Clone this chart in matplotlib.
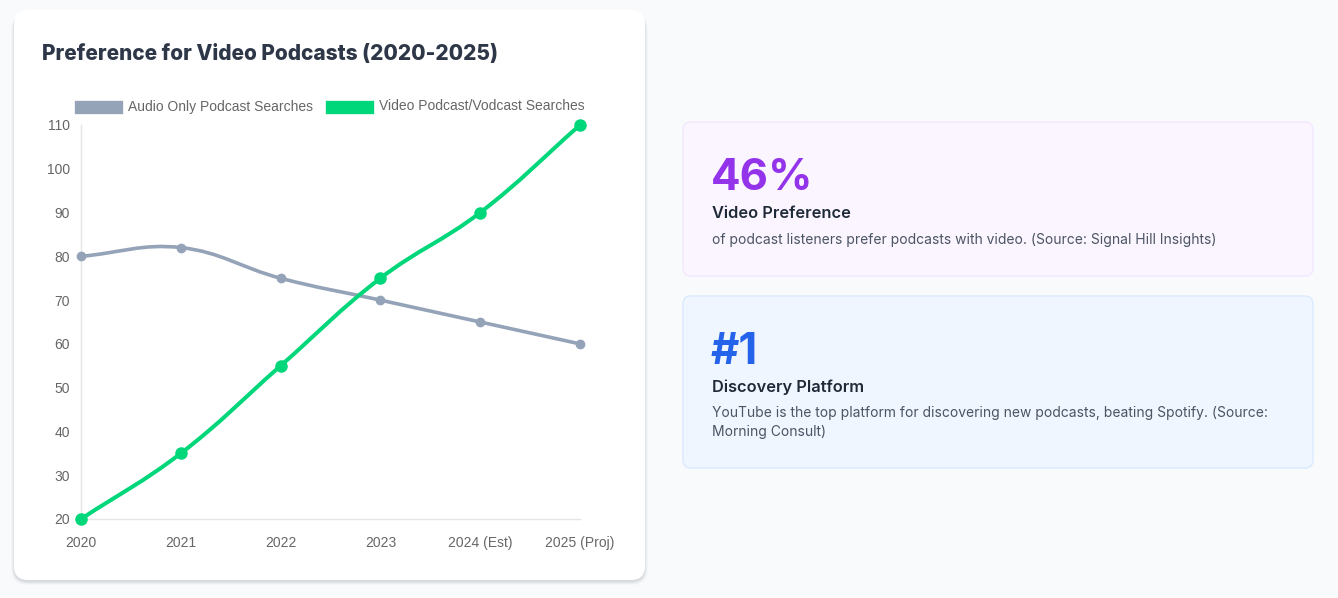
import numpy as np
import matplotlib.pyplot as plt
from matplotlib.patches import FancyBboxPatch, Rectangle, PathPatch
from matplotlib.path import Path

years = ['2020', '2021', '2022', '2023', '2024 (Est)', '2025 (Proj)']
audio = [80, 82, 75, 70, 65, 60]
video = [20, 35, 55, 75, 90, 110]
series_names = ['Audio Only Podcast Searches', 'Video Podcast/Vodcast Searches']
series_colors = ['#94a3b8', '#00d67a']
y_ticks = list(range(20, 111, 10))

W, H = 1338, 598
fig = plt.figure(figsize=(W / 100, H / 100), dpi=100)
fig.patch.set_facecolor('#f8fafc')

bg = fig.add_axes([0, 0, 1, 1])
bg.set_xlim(0, W)
bg.set_ylim(H, 0)
bg.axis('off')


def card(x, y, w, h, face, edge, r=12, shadow=False):
    if shadow:
        for i, a in enumerate([0.05, 0.04, 0.03, 0.02]):
            bg.add_patch(FancyBboxPatch((x - i, y + 1 + i), w + 2 * i, h + 1,
                                        boxstyle=f"round,pad=0,rounding_size={r + i}",
                                        fc='#0f172a', ec='none', alpha=a))
    bg.add_patch(FancyBboxPatch((x, y), w, h, boxstyle=f"round,pad=0,rounding_size={r}",
                                fc=face, ec=edge, lw=1))


card(14, 10, 631, 570, 'white', 'none', r=14, shadow=True)
card(683, 122, 630, 154, '#faf5ff', '#f3e8ff', r=8)
card(683, 296, 630, 172, '#eff6ff', '#dbeafe', r=8)

bg.text(42, 54, 'Preference for Video Podcasts (2020-2025)', fontsize=15, fontweight='heavy',
        family='Inter', color='#2d3748', va='center')

# legend
lx = [74, 325]
for x0, name, col in zip(lx, series_names, series_colors):
    bg.add_patch(Rectangle((x0, 99.5), 49, 14, fc=col, ec='white', lw=0.5))
    bg.text(x0 + 54, 106.5, name, fontsize=10, family='Liberation Sans', color='#666666',
            va='center')

# stat cards
bg.text(711, 178, '46%', fontsize=31.5, fontweight='bold', family='Inter', color='#9333ea',
        va='center')
bg.text(712, 214, 'Video Preference', fontsize=11.8, fontweight='semibold', family='Inter',
        color='#1f2937', va='center')
bg.text(712, 240, 'of podcast listeners prefer podcasts with video. (Source: Signal Hill Insights)',
        fontsize=10, family='Inter', color='#4b5563', va='center')

bg.text(711, 352, '#1', fontsize=31.5, fontweight='bold', family='Inter', color='#2563eb',
        va='center')
bg.text(712, 387, 'Discovery Platform', fontsize=11.8, fontweight='semibold', family='Inter',
        color='#1f2937', va='center')
bg.text(712, 413, 'YouTube is the top platform for discovering new podcasts, beating Spotify. (Source:',
        fontsize=10, family='Inter', color='#4b5563', va='center')
bg.text(712, 432, 'Morning Consult)', fontsize=10, family='Inter', color='#4b5563', va='center')

# chart
ax = fig.add_axes([81 / W, (H - 519) / H, 499 / W, 394 / H])
ax.patch.set_alpha(0)
ax.set_xlim(0, len(years) - 1)
ax.set_ylim(y_ticks[0], y_ticks[-1])
for s in ['top', 'right']:
    ax.spines[s].set_visible(False)
for s in ['left', 'bottom']:
    ax.spines[s].set_color('#e5e5e5')
    ax.spines[s].set_linewidth(1)
ax.set_xticks(range(len(years)))
ax.set_xticklabels(years)
ax.set_yticks(y_ticks)
ax.tick_params(axis='both', length=0, labelsize=10, labelcolor='#666666')
ax.tick_params(axis='y', pad=8)
ax.tick_params(axis='x', pad=12)
for lab in ax.get_xticklabels() + ax.get_yticklabels():
    lab.set_family('Liberation Sans')


def smooth_path(xs, ys, t=0.4):
    pts = ax.transData.transform(np.column_stack([xs, ys]))
    lo = ax.transData.transform((0, y_ticks[-1]))[1]
    hi = ax.transData.transform((0, y_ticks[0]))[1]
    ymin, ymax = min(lo, hi), max(lo, hi)
    n = len(pts)
    cps = []
    for i in range(n):
        prev = pts[max(i - 1, 0)]
        cur = pts[i]
        nxt = pts[min(i + 1, n - 1)]
        d01 = np.hypot(*(cur - prev))
        d12 = np.hypot(*(nxt - cur))
        tot = d01 + d12
        fa = t * d01 / tot if tot else 0
        fb = t * d12 / tot if tot else 0
        c1 = cur - fa * (nxt - prev)
        c2 = cur + fb * (nxt - prev)
        c1[1] = np.clip(c1[1], ymin, ymax)
        c2[1] = np.clip(c2[1], ymin, ymax)
        cps.append((c1, c2))
    verts = [pts[0]]
    codes = [Path.MOVETO]
    for i in range(n - 1):
        verts += [cps[i][1], cps[i + 1][0], pts[i + 1]]
        codes += [Path.CURVE4] * 3
    verts = ax.transData.inverted().transform(np.array(verts))
    return Path(verts, codes)


xs = np.arange(len(years))
for vals, col, ms, lw, z in [(audio, series_colors[0], 6, 2.6, 3), (video, series_colors[1], 8, 2.9, 4)]:
    ax.add_patch(PathPatch(smooth_path(xs, vals), fill=False, ec=col, lw=lw,
                           clip_on=False, zorder=z, capstyle='round'))
    ax.plot(xs, vals, 'o', color=col, ms=ms, clip_on=False, zorder=z + 0.5)

fig.savefig('out.png', dpi=100, facecolor=fig.get_facecolor())
